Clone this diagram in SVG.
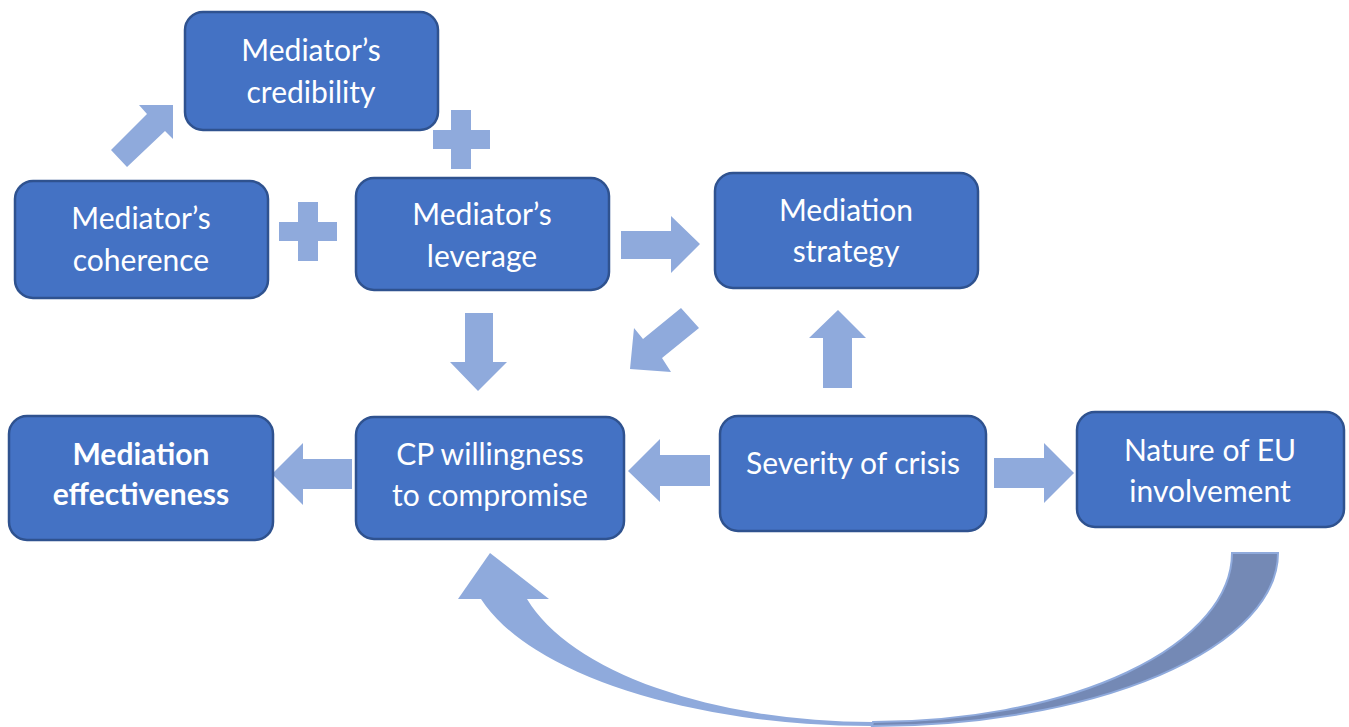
<svg xmlns="http://www.w3.org/2000/svg" width="1349" height="727" viewBox="0 0 1349 727">
  <style>
    .box { fill: #4472C4; stroke: #2F528F; stroke-width: 2.5; }
    .lbl { fill: #FFFFFF; font-family: Lato, "Open Sans", "Liberation Sans", sans-serif; font-size: 30px; text-anchor: middle; }
    .bold { font-weight: bold; }
    .arr { fill: #8FAADC; }
    .back { fill: #7489B5; stroke: #8FAADC; stroke-width: 2; }
  </style>
  <rect width="1349" height="727" fill="#FFFFFF"/>

  <!-- connectors: block arrows and plus signs -->
  <g id="connectors">
    <!-- coherence to credibility (diagonal) -->
    <polygon class="arr" points="111,150 147,114 139,105 173,105 173,139 165,131 127,167"/>
    <!-- plus signs -->
    <path class="arr" d="M451,110 H471 V130 H490 V149 H471 V169 H451 V149 H433 V130 H451 Z"/>
    <path class="arr" d="M298,202 H318 V222 H337 V241 H318 V261 H298 V241 H279 V222 H298 Z"/>
    <!-- leverage to strategy -->
    <polygon class="arr" points="621,231 671,231 671,216 700,244 671,273 671,259 621,259"/>
    <!-- strategy to CP willingness (diagonal) -->
    <polygon class="arr" points="681,308 699,328 662,358 671,372 630,369 634,328 643,339"/>
    <!-- severity up to strategy -->
    <polygon class="arr" points="823,388 823,338 809,338 838,310 866,338 852,338 852,388"/>
    <!-- leverage down to CP willingness -->
    <polygon class="arr" points="465,313 493,313 493,362 507,362 478,391 450,362 465,362"/>
    <!-- CP willingness to effectiveness -->
    <polygon class="arr" points="352,459 303,459 303,443 272,474 303,505 303,489 352,489"/>
    <!-- severity to CP willingness -->
    <polygon class="arr" points="710,455 660,455 660,439 628,471 660,502 660,486 710,486"/>
    <!-- severity to EU involvement -->
    <polygon class="arr" points="994,458 1044,458 1044,443 1074,473 1044,503 1044,488 994,488"/>
    <!-- curved arrow from EU involvement back to CP willingness -->
    <path class="back" d="M1232,553 L1278,553 A406 173 0 0 1 872,726 L873,722 A359 169 0 0 0 1232,553 Z"/>
    <path class="arr" d="M527,599 A359 169 0 0 0 873,722 L872,726 A406 173 0 0 1 481,599 Z"/>
    <polygon class="arr" points="458,599 490,553 549,599"/>
  </g>

  <g id="node-credibility">
    <rect class="box" x="185" y="12" width="253" height="118" rx="18"/>
    <text class="lbl" x="311" y="61">Mediator’s</text>
    <text class="lbl" x="311" y="103">credibility</text>
  </g>
  <g id="node-coherence">
    <rect class="box" x="15" y="181" width="253" height="117" rx="18"/>
    <text class="lbl" x="141" y="229">Mediator’s</text>
    <text class="lbl" x="141" y="271">coherence</text>
  </g>
  <g id="node-leverage">
    <rect class="box" x="356" y="178" width="253" height="112" rx="18"/>
    <text class="lbl" x="482" y="225">Mediator’s</text>
    <text class="lbl" x="482" y="267">leverage</text>
  </g>
  <g id="node-strategy">
    <rect class="box" x="715" y="173" width="263" height="115" rx="18"/>
    <text class="lbl" x="846" y="221">Mediation</text>
    <text class="lbl" x="846" y="262">strategy</text>
  </g>
  <g id="node-effectiveness">
    <rect class="box" x="9" y="416" width="264" height="124" rx="18"/>
    <text class="lbl bold" x="141" y="465">Mediation</text>
    <text class="lbl bold" x="141" y="505">effectiveness</text>
  </g>
  <g id="node-willingness">
    <rect class="box" x="356" y="417" width="268" height="122" rx="18"/>
    <text class="lbl" x="490" y="465">CP willingness</text>
    <text class="lbl" x="490" y="506">to compromise</text>
  </g>
  <g id="node-severity">
    <rect class="box" x="720" y="416" width="266" height="115" rx="18"/>
    <text class="lbl" x="853" y="474">Severity of crisis</text>
  </g>
  <g id="node-involvement">
    <rect class="box" x="1077" y="412" width="267" height="115" rx="18"/>
    <text class="lbl" x="1210" y="461">Nature of EU</text>
    <text class="lbl" x="1210" y="502">involvement</text>
  </g>
</svg>
